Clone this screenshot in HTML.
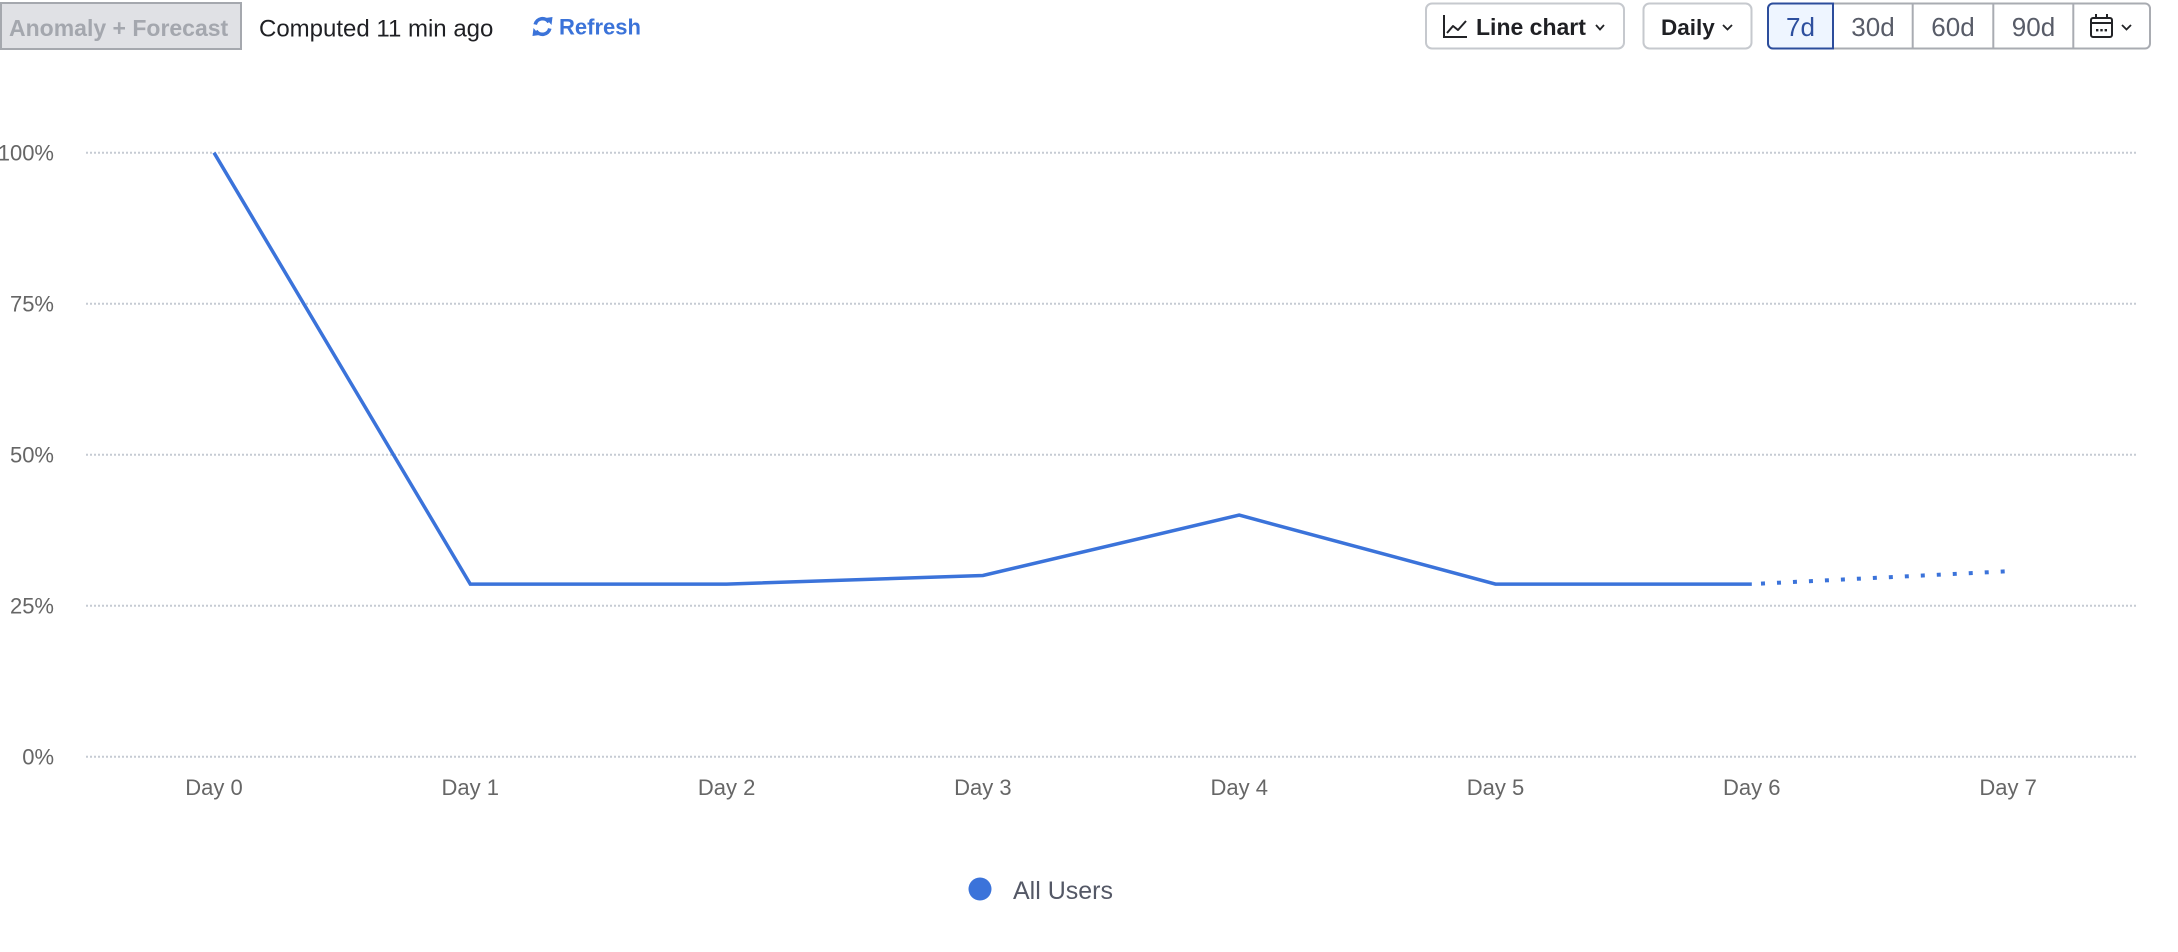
<!DOCTYPE html>
<html>
<head>
<meta charset="utf-8">
<style>
  html, body { margin:0; padding:0; background:#ffffff; }
  body { width:2178px; height:952px; overflow:hidden; position:relative; }
  svg { position:absolute; left:0; top:0; }
  text { font-family: "Liberation Sans", "DejaVu Sans", sans-serif; }
</style>
</head>
<body>
<svg width="2178" height="952" viewBox="0 0 2178 952" xmlns="http://www.w3.org/2000/svg">
  <!-- ===== Top left controls ===== -->
  <rect x="1" y="3" width="240" height="46" fill="#e0e1e5" stroke="#a5a8ae" stroke-width="2"/>
  <text x="9" y="36" font-size="23" font-weight="bold" fill="#a4a7ae">Anomaly + Forecast</text>
  <text x="259" y="36.5" font-size="24" fill="#1f2024">Computed 11 min ago</text>

  <!-- refresh icon -->
  <g fill="none" stroke="#3b73d9" stroke-width="3.6" stroke-linecap="butt">
    <path d="M535.2 24.5 A7.6 7.6 0 0 1 549 22.2"/>
    <path d="M549.8 28.5 A7.6 7.6 0 0 1 536 30.8"/>
  </g>
  <polygon points="545.5,18 552.5,17 551.5,25" fill="#3b73d9"/>
  <polygon points="539.5,35 532.5,36 533.5,28" fill="#3b73d9"/>
  <text x="559" y="34.5" font-size="22" font-weight="bold" fill="#3b73d9">Refresh</text>

  <!-- ===== Top right controls ===== -->
  <!-- Line chart button -->
  <rect x="1426" y="3.5" width="198" height="45" rx="6" ry="6" fill="#ffffff" stroke="#c6c9ce" stroke-width="2"/>
  <g fill="none" stroke="#222326" stroke-width="2">
    <polyline points="1444,15 1444,37 1467,37"/>
    <polyline points="1447,33 1453,26 1458,30 1466,21" stroke-linejoin="round"/>
  </g>
  <text x="1476" y="35" font-size="23" font-weight="bold" fill="#1f2024">Line chart</text>
  <polyline points="1596,25 1600,29.5 1604,25" fill="none" stroke="#222326" stroke-width="1.8"/>

  <!-- Daily button -->
  <rect x="1643.5" y="3.5" width="108" height="45" rx="6" ry="6" fill="#ffffff" stroke="#c6c9ce" stroke-width="2"/>
  <text x="1661" y="35" font-size="22.5" font-weight="bold" fill="#1f2024">Daily</text>
  <polyline points="1723,25 1727.5,29.5 1732,25" fill="none" stroke="#222326" stroke-width="1.8"/>

  <!-- Segmented control -->
  <rect x="1768" y="3.5" width="382" height="45" rx="5" ry="5" fill="#ffffff" stroke="#a9acb2" stroke-width="2"/>
  <line x1="1912.7" y1="3" x2="1912.7" y2="49" stroke="#a9acb2" stroke-width="2"/>
  <line x1="1993.3" y1="3" x2="1993.3" y2="49" stroke="#a9acb2" stroke-width="2"/>
  <line x1="2073.3" y1="3" x2="2073.3" y2="49" stroke="#a9acb2" stroke-width="2"/>
  <path d="M1773 3.5 H1833 V48.5 H1773 A5 5 0 0 1 1768 43.5 V8.5 A5 5 0 0 1 1773 3.5 Z" fill="#eef5ff" stroke="#2c4d9c" stroke-width="2"/>
  <text x="1800.5" y="36" font-size="26" fill="#2d4f9e" text-anchor="middle">7d</text>
  <text x="1873" y="36" font-size="26" fill="#585c68" text-anchor="middle">30d</text>
  <text x="1953" y="36" font-size="26" fill="#585c68" text-anchor="middle">60d</text>
  <text x="2033.5" y="36" font-size="26" fill="#585c68" text-anchor="middle">90d</text>
  <!-- calendar icon -->
  <g fill="none" stroke="#222326" stroke-width="2">
    <rect x="2091" y="18" width="21" height="19" rx="2" ry="2"/>
    <line x1="2091" y1="23" x2="2112" y2="23"/>
    <line x1="2096" y1="14" x2="2096" y2="19"/>
    <line x1="2107" y1="14" x2="2107" y2="19"/>
  </g>
  <g fill="#222326">
    <rect x="2096" y="29" width="2.4" height="2.4"/>
    <rect x="2100.3" y="29" width="2.4" height="2.4"/>
    <rect x="2104.6" y="29" width="2.4" height="2.4"/>
  </g>
  <polyline points="2122,25 2126.5,29.5 2131,25" fill="none" stroke="#222326" stroke-width="1.8"/>

  <!-- ===== Chart gridlines ===== -->
  <g stroke="#c6cbd3" stroke-width="2" stroke-dasharray="2 2">
    <line x1="86" y1="152.7" x2="2136" y2="152.7"/>
    <line x1="86" y1="303.7" x2="2136" y2="303.7"/>
    <line x1="86" y1="454.7" x2="2136" y2="454.7"/>
    <line x1="86" y1="605.7" x2="2136" y2="605.7"/>
    <line x1="86" y1="756.7" x2="2136" y2="756.7"/>
  </g>

  <!-- Y axis labels -->
  <g font-size="22" fill="#666666" text-anchor="end">
    <text x="54" y="160.5">100%</text>
    <text x="54" y="311.5">75%</text>
    <text x="54" y="462.5">50%</text>
    <text x="54" y="613.5">25%</text>
    <text x="54" y="764.5">0%</text>
  </g>

  <!-- X axis labels -->
  <g font-size="22" fill="#666666" text-anchor="middle">
    <text x="214" y="795">Day 0</text>
    <text x="470.3" y="795">Day 1</text>
    <text x="726.6" y="795">Day 2</text>
    <text x="982.9" y="795">Day 3</text>
    <text x="1239.2" y="795">Day 4</text>
    <text x="1495.5" y="795">Day 5</text>
    <text x="1751.8" y="795">Day 6</text>
    <text x="2008.1" y="795">Day 7</text>
  </g>

  <!-- Series -->
  <polyline fill="none" stroke="#3b73da" stroke-width="3.5" stroke-linejoin="miter"
    points="214,152.7 470.3,584.1 726.6,584.1 982.9,575.5 1239.2,515.1 1495.5,584.1 1751.8,584.1"/>
  <line x1="1761" y1="583.6" x2="2005" y2="571.4" stroke="#3b73da" stroke-width="4" stroke-dasharray="4 12"/>

  <!-- Legend -->
  <circle cx="980" cy="889" r="11.5" fill="#3b73da"/>
  <text x="1013" y="899" font-size="25" fill="#545866">All Users</text>
</svg>
</body>
</html>
